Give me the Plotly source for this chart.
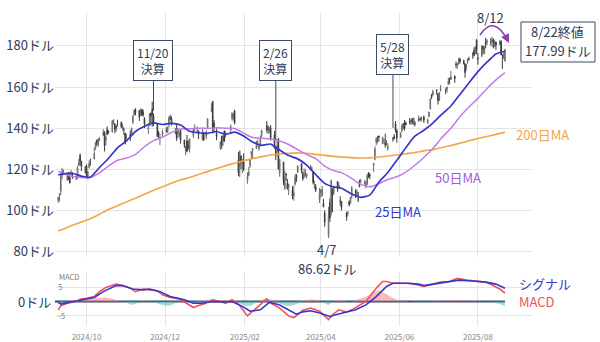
import plotly.graph_objects as go

# ---------------- daily candles (NVDA-like) ----------------
dates = [
 "2024-09-09","2024-09-10","2024-09-11","2024-09-12","2024-09-13","2024-09-16","2024-09-17","2024-09-18","2024-09-19","2024-09-20","2024-09-23","2024-09-24","2024-09-25","2024-09-26","2024-09-27","2024-09-30",
 "2024-10-01","2024-10-02","2024-10-03","2024-10-04","2024-10-07","2024-10-08","2024-10-09","2024-10-10","2024-10-11","2024-10-14","2024-10-15","2024-10-16","2024-10-17","2024-10-18","2024-10-21","2024-10-22","2024-10-23","2024-10-24","2024-10-25","2024-10-28","2024-10-29","2024-10-30","2024-10-31",
 "2024-11-01","2024-11-04","2024-11-05","2024-11-06","2024-11-07","2024-11-08","2024-11-11","2024-11-12","2024-11-13","2024-11-14","2024-11-15","2024-11-18","2024-11-19","2024-11-20","2024-11-21","2024-11-22","2024-11-25","2024-11-26","2024-11-27","2024-11-29",
 "2024-12-02","2024-12-03","2024-12-04","2024-12-05","2024-12-06","2024-12-09","2024-12-10","2024-12-11","2024-12-12","2024-12-13","2024-12-16","2024-12-17","2024-12-18","2024-12-19","2024-12-20","2024-12-23","2024-12-24","2024-12-26","2024-12-27","2024-12-30","2024-12-31",
 "2025-01-02","2025-01-03","2025-01-06","2025-01-07","2025-01-08","2025-01-10","2025-01-13","2025-01-14","2025-01-15","2025-01-16","2025-01-17","2025-01-21","2025-01-22","2025-01-23","2025-01-24","2025-01-27","2025-01-28","2025-01-29","2025-01-30","2025-01-31",
 "2025-02-03","2025-02-04","2025-02-05","2025-02-06","2025-02-07","2025-02-10","2025-02-11","2025-02-12","2025-02-13","2025-02-14","2025-02-18","2025-02-19","2025-02-20","2025-02-21","2025-02-24","2025-02-25","2025-02-26","2025-02-27","2025-02-28",
 "2025-03-03","2025-03-04","2025-03-05","2025-03-06","2025-03-07","2025-03-10","2025-03-11","2025-03-12","2025-03-13","2025-03-14","2025-03-17","2025-03-18","2025-03-19","2025-03-20","2025-03-21","2025-03-24","2025-03-25","2025-03-26","2025-03-27","2025-03-28","2025-03-31",
 "2025-04-01","2025-04-02","2025-04-03","2025-04-04","2025-04-07","2025-04-08","2025-04-09","2025-04-10","2025-04-11","2025-04-14","2025-04-15","2025-04-16","2025-04-17","2025-04-21","2025-04-22","2025-04-23","2025-04-24","2025-04-25","2025-04-28","2025-04-29","2025-04-30",
 "2025-05-01","2025-05-02","2025-05-05","2025-05-06","2025-05-07","2025-05-08","2025-05-09","2025-05-12","2025-05-13","2025-05-14","2025-05-15","2025-05-16","2025-05-19","2025-05-20","2025-05-21","2025-05-22","2025-05-23","2025-05-27","2025-05-28","2025-05-29","2025-05-30",
 "2025-06-02","2025-06-03","2025-06-04","2025-06-05","2025-06-06","2025-06-09","2025-06-10","2025-06-11","2025-06-12","2025-06-13","2025-06-16","2025-06-17","2025-06-18","2025-06-20","2025-06-23","2025-06-24","2025-06-25","2025-06-26","2025-06-27","2025-06-30",
 "2025-07-01","2025-07-02","2025-07-03","2025-07-07","2025-07-08","2025-07-09","2025-07-10","2025-07-11","2025-07-14","2025-07-15","2025-07-16","2025-07-17","2025-07-18","2025-07-21","2025-07-22","2025-07-23","2025-07-24","2025-07-25","2025-07-28","2025-07-29","2025-07-30","2025-07-31",
 "2025-08-01","2025-08-04","2025-08-05","2025-08-06","2025-08-07","2025-08-08","2025-08-11","2025-08-12","2025-08-13","2025-08-14","2025-08-15","2025-08-18","2025-08-19","2025-08-20","2025-08-21","2025-08-22",
]
opens = [
 104.88,107.81,109.39,116.85,119.08,116.79,118.17,115.89,117.35,117.06,116.55,116.52,122.02,126.80,123.97,118.31,
 121.77,116.44,120.92,124.94,124.99,130.26,134.11,131.91,134.01,136.47,137.87,133.98,139.34,138.67,138.13,142.91,142.03,140.82,141.68,143.00,140.29,139.54,137.60,
 134.70,137.21,137.45,142.96,146.39,148.77,148.68,146.78,149.07,147.64,144.87,139.50,141.32,147.41,149.35,145.93,141.99,137.70,135.01,136.78,
 138.83,138.26,142.00,145.11,144.60,138.97,139.01,137.36,137.08,138.94,134.18,129.09,133.86,131.76,129.81,136.28,140.00,139.70,138.55,134.83,138.03,
 136.00,140.01,148.59,153.03,142.58,137.45,129.99,136.05,133.65,138.64,136.69,139.16,144.66,145.05,148.37,124.80,121.81,126.50,123.10,123.78,
 114.75,116.96,121.76,127.42,129.22,130.09,132.58,130.02,131.56,136.48,141.27,139.51,140.03,140.04,136.56,129.98,129.99,135.00,118.01,
 123.51,110.65,117.58,113.53,111.25,109.90,106.99,112.73,117.03,118.61,122.74,118.00,117.27,116.55,116.77,119.88,120.55,118.73,111.35,111.49,105.13,
 108.52,107.29,103.51,98.91,87.46,103.81,98.89,109.37,108.50,114.11,110.97,104.55,104.45,98.77,98.78,104.52,103.48,106.85,109.69,107.67,104.47,
 113.08,114.18,112.91,111.48,113.05,118.25,117.35,121.97,124.98,133.20,134.30,136.22,132.39,134.29,133.06,132.23,130.00,134.15,136.03,142.25,138.72,
 135.49,138.78,142.19,142.17,142.51,143.19,142.69,144.61,141.97,142.48,143.35,144.49,144.01,145.45,142.50,145.56,149.27,155.98,156.04,158.37,
 156.29,153.66,158.43,158.83,159.07,161.22,164.32,163.72,165.37,171.19,171.06,172.02,173.64,172.75,171.34,169.53,172.02,173.61,174.02,177.96,176.20,182.90,
 174.09,175.16,179.62,176.33,181.57,181.56,182.16,181.88,182.62,179.75,181.88,180.60,182.43,175.41,174.85,172.61,
]
highs = [
 106.55,108.45,117.19,120.79,119.96,118.18,118.80,117.70,119.66,118.62,116.99,121.80,124.94,127.67,124.03,121.50,
 122.44,119.38,124.36,125.04,130.64,133.48,134.52,135.00,135.78,139.60,138.57,136.62,140.89,138.90,143.71,144.42,142.43,141.35,144.13,143.14,142.26,140.33,137.61,
 137.31,138.96,140.37,146.49,148.93,149.77,148.85,149.65,149.33,149.00,145.24,141.55,147.13,147.56,152.89,147.16,142.05,138.70,137.22,139.35,
 140.45,140.92,145.79,146.54,145.70,139.95,141.82,140.17,138.44,139.60,134.40,131.59,136.70,134.03,135.07,139.79,141.90,140.85,139.02,140.27,138.07,
 138.88,144.90,152.16,153.13,143.95,139.92,133.49,136.38,136.45,138.75,138.50,141.83,147.79,147.23,148.97,128.40,129.00,126.89,125.00,127.85,
 118.57,121.20,125.00,128.77,130.37,133.00,134.48,132.24,136.50,139.25,143.44,141.36,140.67,141.46,138.59,130.20,133.73,135.01,125.09,
 123.70,119.31,118.28,115.35,113.00,111.85,112.23,117.77,117.76,121.89,122.90,119.02,120.45,120.08,117.99,122.22,121.29,118.84,114.45,112.87,110.96,
 110.20,111.98,105.63,100.13,101.75,105.85,115.10,110.86,111.65,114.29,113.62,106.95,104.47,99.35,99.81,104.80,106.54,111.92,110.37,110.20,108.92,
 114.94,115.40,114.67,114.74,117.68,118.68,118.23,123.00,131.22,135.44,136.30,136.35,135.87,134.58,137.40,134.25,132.68,135.66,137.25,143.49,139.62,
 138.12,142.00,142.39,144.00,143.27,145.00,144.29,144.99,145.00,143.58,146.18,145.22,145.65,146.20,144.78,147.96,154.45,156.72,158.71,158.99,
 157.20,157.45,160.98,159.43,160.22,164.42,164.50,167.89,165.49,172.40,171.75,174.16,174.25,173.38,171.39,171.26,173.99,174.72,176.96,179.38,179.89,183.30,
 176.54,180.26,180.26,179.89,183.88,183.30,183.85,184.47,183.62,183.03,181.90,182.94,182.50,176.00,176.94,178.64,
]
lows = [
 103.69,104.47,107.42,115.38,117.60,114.36,114.83,113.22,117.25,115.39,114.86,115.38,121.61,121.80,119.26,118.15,
 115.79,115.14,120.34,121.83,124.95,129.42,131.38,131.00,133.66,136.30,128.74,131.58,136.87,137.28,138.00,141.78,137.46,138.46,140.80,140.05,138.90,136.81,132.11,
 134.57,133.80,137.33,141.96,146.17,146.26,143.57,146.01,145.90,145.55,140.08,137.15,140.99,142.73,140.70,141.10,135.82,135.21,131.80,136.05,
 137.82,137.75,140.29,143.95,141.31,137.13,133.79,135.21,135.80,132.54,130.42,126.86,128.28,129.55,128.22,135.12,138.65,137.73,134.71,134.02,133.83,
 134.63,139.73,147.82,137.56,137.56,134.22,129.51,130.05,131.29,133.49,135.46,137.09,143.67,143.72,141.88,116.70,116.25,120.05,118.10,119.19,
 113.01,116.70,120.76,125.21,125.00,129.96,131.02,129.08,131.17,135.50,137.93,137.22,137.78,134.03,130.08,124.44,128.49,120.01,116.40,
 112.28,110.11,114.51,110.22,107.56,105.46,104.77,112.28,113.79,118.15,118.10,114.54,115.64,116.45,115.43,119.60,119.43,112.70,110.66,109.07,103.65,
 106.47,106.79,101.60,92.11,86.62,94.46,97.53,99.15,107.43,109.07,110.50,102.47,100.05,95.04,97.28,102.02,103.11,105.73,106.02,107.44,104.08,
 111.30,113.37,112.66,110.82,112.28,115.85,115.21,118.78,124.47,131.68,132.66,133.46,132.39,132.62,130.59,131.55,129.16,133.31,134.79,137.91,132.92,
 135.40,137.95,139.55,138.83,141.51,141.94,141.53,141.87,141.85,140.85,143.20,143.78,143.12,142.65,142.03,145.50,149.26,154.20,155.91,156.16,
 151.49,153.26,157.77,156.56,157.35,161.16,161.61,163.47,162.02,169.20,168.90,170.83,171.26,171.00,164.58,167.97,171.30,172.96,173.76,175.02,176.04,175.93,
 170.89,174.52,175.90,176.04,178.80,180.40,180.25,179.46,178.80,179.35,178.04,180.59,175.49,168.80,173.61,172.53,
]
closes = [
 106.47,108.10,116.91,119.14,119.10,116.78,115.59,113.37,117.87,116.00,116.26,120.87,123.51,124.04,121.40,121.44,
 117.00,118.85,122.85,124.92,127.72,132.89,132.65,134.81,134.80,138.07,131.60,135.72,136.93,138.00,143.71,143.59,139.56,140.41,141.54,140.52,141.25,139.34,132.76,
 135.40,136.05,139.91,145.61,148.88,147.63,145.26,148.29,146.27,146.76,141.98,140.15,147.01,145.89,146.67,141.95,136.02,136.92,135.34,138.25,
 138.63,140.26,145.14,145.06,142.44,138.81,135.07,139.31,137.34,134.25,132.00,130.39,128.91,130.68,134.70,139.67,140.22,139.93,137.01,137.49,134.29,
 138.31,144.47,149.43,140.14,140.11,135.91,133.23,131.76,136.24,133.57,137.71,140.83,147.07,147.22,142.62,118.42,128.99,123.70,124.65,120.07,
 116.66,118.65,124.83,128.68,129.84,133.57,132.80,131.14,135.29,138.85,139.40,139.23,140.11,134.43,130.28,126.63,131.28,120.15,124.92,
 114.06,115.99,117.30,110.57,112.69,106.98,108.76,115.74,115.58,121.67,119.53,115.43,117.52,118.53,117.70,121.41,120.69,113.76,111.43,109.67,108.38,
 110.15,110.42,101.80,94.31,97.64,96.30,114.33,107.57,110.93,110.71,112.20,104.49,101.49,96.91,98.89,102.71,106.43,111.01,108.73,109.02,108.92,
 111.61,114.50,113.82,113.54,117.06,117.37,116.65,123.00,129.93,135.34,134.83,135.40,135.57,134.38,131.80,132.83,131.29,135.50,134.81,139.19,135.13,
 137.38,141.22,141.92,139.99,141.72,142.63,143.96,142.83,145.00,141.97,144.69,144.12,145.48,143.85,144.17,147.90,154.31,155.02,157.75,157.99,
 153.30,157.25,159.34,158.24,160.00,162.88,164.10,164.92,164.07,170.70,171.37,173.00,172.41,171.38,167.03,170.78,173.74,173.50,176.75,175.51,179.27,177.87,
 173.72,180.00,178.26,179.42,180.77,182.70,182.06,183.16,181.59,182.02,180.45,182.01,175.64,175.40,174.98,177.99,
]

# ---------------- moving averages (weekly readings) ----------------
ma_dates = [
 "2024-09-09","2024-09-13","2024-09-20","2024-09-27","2024-10-04","2024-10-11","2024-10-18","2024-10-25",
 "2024-11-01","2024-11-08","2024-11-15","2024-11-22","2024-11-29","2024-12-06","2024-12-13","2024-12-20","2024-12-27",
 "2025-01-03","2025-01-10","2025-01-17","2025-01-24","2025-01-31","2025-02-07","2025-02-14","2025-02-21","2025-02-28",
 "2025-03-07","2025-03-14","2025-03-21","2025-03-28","2025-04-04","2025-04-11","2025-04-17","2025-04-25",
 "2025-05-02","2025-05-09","2025-05-16","2025-05-23","2025-05-30","2025-06-06","2025-06-13","2025-06-20","2025-06-27",
 "2025-07-03","2025-07-11","2025-07-18","2025-07-25","2025-08-01","2025-08-08","2025-08-15","2025-08-22",
]
ma25 = [117.3,117.8,118.1,116.7,116.2,120.9,125.3,130.5,
        133.8,138.4,141.0,142.6,141.8,142.4,141.6,138.5,137.8,
        137.5,138.4,137.0,138.1,136.2,133.3,131.7,132.3,129.4,
        126.7,125.1,122.1,117.5,113.2,111.5,110.8,108.0,
        106.4,107.5,113.7,118.5,124.4,130.5,136.1,139.0,142.5,
        146.2,150.8,156.4,162.0,167.5,172.1,176.1,177.4]
ma50 = [119.0,118.0,116.6,116.0,116.1,118.3,121.6,124.4,
        125.5,127.3,131.0,134.0,135.7,137.9,139.6,139.7,140.0,
        139.9,140.2,140.0,139.9,137.6,135.5,135.2,134.8,133.8,
        132.1,129.6,127.2,125.2,121.6,119.4,118.4,115.6,
        112.8,111.5,113.0,115.1,116.4,118.7,122.0,125.8,130.1,
        134.7,140.0,145.6,150.3,154.5,159.2,163.5,167.0]
ma200 = [90.0,91.0,92.8,94.4,96.0,98.2,100.5,102.3,
         104.2,106.0,107.9,109.8,111.6,113.3,114.8,116.1,117.5,
         118.9,120.4,121.8,123.0,124.2,125.2,126.2,127.0,127.5,
         127.8,128.0,127.8,127.3,126.8,126.3,126.0,125.7,
         125.5,125.6,126.0,126.5,127.0,127.6,128.2,129.0,129.6,
         130.5,131.6,132.7,133.9,135.0,136.0,137.0,138.0]

# ---------------- MACD (readings) ----------------
macd_dates = ["2024-09-09","2024-09-11","2024-09-16","2024-09-23","2024-09-27","2024-10-01","2024-10-07","2024-10-11",
 "2024-10-16","2024-10-22","2024-10-24","2024-10-29","2024-11-04","2024-11-08","2024-11-14","2024-11-19","2024-11-25",
 "2024-11-29","2024-12-05","2024-12-12","2024-12-18","2024-12-23","2024-12-27","2024-12-31","2025-01-07","2025-01-13",
 "2025-01-17","2025-01-22","2025-01-27","2025-02-03","2025-02-07","2025-02-13","2025-02-18","2025-02-21","2025-02-28",
 "2025-03-07","2025-03-11","2025-03-14","2025-03-18","2025-03-24","2025-03-31","2025-04-07","2025-04-10","2025-04-15",
 "2025-04-21","2025-04-25","2025-04-30","2025-05-06","2025-05-09","2025-05-14","2025-05-19","2025-05-22","2025-05-27",
 "2025-06-02","2025-06-09","2025-06-13","2025-06-20","2025-06-27","2025-07-03","2025-07-10","2025-07-16","2025-07-23",
 "2025-07-31","2025-08-07","2025-08-12","2025-08-18","2025-08-22"]
macd_vals = [-2.9,-1.5,-0.6,0.0,0.9,1.1,1.7,3.4,
 4.8,5.7,6.0,5.5,4.6,3.4,4.3,4.0,3.7,
 2.3,1.4,0.9,-0.6,-2.1,-1.4,-0.9,0.6,0.0,
 -0.7,0.6,-0.9,-5.0,-3.4,-0.9,0.9,-0.6,-2.3,
 -5.0,-5.6,-4.6,-3.0,-2.3,-3.4,-6.3,-4.6,-2.9,
 -3.7,-2.9,-1.7,0.0,1.7,4.6,6.9,6.9,6.3,
 6.3,6.3,6.0,5.2,6.0,6.7,6.9,8.0,7.4,
 7.1,6.7,5.7,4.3,2.9]
signal_dates = ["2024-09-09","2024-09-11","2024-09-18","2024-09-27","2024-10-07","2024-10-14","2024-10-24","2024-10-29",
 "2024-11-06","2024-11-14","2024-11-19","2024-11-27","2024-12-05","2024-12-16","2024-12-23","2024-12-30","2025-01-07",
 "2025-01-15","2025-01-22","2025-01-30","2025-02-05","2025-02-13","2025-02-20","2025-02-28","2025-03-07","2025-03-13",
 "2025-03-18","2025-03-24","2025-03-31","2025-04-08","2025-04-14","2025-04-21","2025-04-28","2025-05-06","2025-05-14",
 "2025-05-22","2025-05-27","2025-06-06","2025-06-16","2025-06-20","2025-07-02","2025-07-11","2025-07-17","2025-07-28",
 "2025-08-07","2025-08-15","2025-08-22"]
signal_vals = [-0.2,-0.9,-0.3,0.6,1.4,3.4,5.5,5.5,
 4.3,4.0,4.3,3.4,1.7,0.6,-0.6,-0.6,0.0,
 -0.2,0.0,-1.7,-3.4,-2.9,-0.3,-1.2,-2.9,-4.4,
 -3.6,-3.2,-4.0,-5.2,-4.4,-3.7,-2.9,-1.2,1.7,
 5.2,6.3,6.3,6.0,5.5,6.3,7.1,7.4,7.1,
 6.7,6.0,4.6]
hist_dates = ["2024-09-09","2024-09-12","2024-09-17","2024-09-24","2024-10-01","2024-10-08","2024-10-15","2024-10-21",
 "2024-10-25","2024-10-31","2024-11-05","2024-11-08","2024-11-12","2024-11-18","2024-11-22","2024-11-27","2024-12-03",
 "2024-12-09","2024-12-13","2024-12-19","2024-12-24","2024-12-30","2025-01-06","2025-01-10","2025-01-15","2025-01-22",
 "2025-01-27","2025-01-31","2025-02-05","2025-02-11","2025-02-14","2025-02-19","2025-02-25","2025-03-03","2025-03-07",
 "2025-03-13","2025-03-19","2025-03-25","2025-04-01","2025-04-07","2025-04-11","2025-04-16","2025-04-23","2025-04-30",
 "2025-05-06","2025-05-12","2025-05-16","2025-05-21","2025-05-27","2025-06-02","2025-06-09","2025-06-16","2025-06-23",
 "2025-06-30","2025-07-08","2025-07-15","2025-07-22","2025-07-29","2025-08-05","2025-08-11","2025-08-15","2025-08-20",
 "2025-08-22"]
hist_vals = [-1.0,-0.3,0.2,0.5,0.8,1.2,1.4,0.9,
 0.4,-0.3,-1.1,-0.9,0.1,0.2,-0.3,-1.0,-1.5,
 -0.6,0.2,-0.4,-0.8,0.3,0.6,0.1,-0.2,0.4,
 -0.4,-1.3,-1.5,-0.2,0.6,0.9,-0.3,-1.2,-1.6,
 -0.9,0.3,0.8,-0.2,-1.1,0.1,0.6,-0.1,0.8,
 1.6,3.0,3.8,2.8,1.2,0.3,0.0,-0.4,-0.2,
 0.3,0.2,0.5,0.1,0.3,0.1,-0.2,-0.6,-1.2,
 -1.6]

# ---------------- ticks ----------------
price_ticks = [80, 100, 120, 140, 160, 180]
price_tick_text = ["80ドル", "100ドル", "120ドル", "140ドル", "160ドル", "180ドル"]
month_ticks = ["2024-10-01", "2024-12-01", "2025-02-01", "2025-04-01", "2025-06-01", "2025-08-01"]
month_tick_text = ["2024/10", "2024/12", "2025/02", "2025/04", "2025/06", "2025/08"]
macd_ticks = [-5, 5]
macd_tick_text = ["-5", "5"]

for name, arr in [("opens", opens), ("highs", highs), ("lows", lows), ("closes", closes)]:
    if len(arr) != len(dates):
        raise ValueError(f"{name}: {len(arr)} vs dates {len(dates)}")
for a, b in [(ma25, ma_dates), (ma50, ma_dates), (ma200, ma_dates), (macd_vals, macd_dates),
             (signal_vals, signal_dates), (hist_vals, hist_dates)]:
    if len(a) != len(b):
        raise ValueError(f"len mismatch {len(a)} vs {len(b)}")

TXT = "#2e3b5b"
BLUE = "#3636c8"
PURPLE = "#c07ce8"
ORANGE = "#f5a445"
RED = "#f0505c"
GRID = "#e4e4e4"
BORDER = "#3d4a66"
FONT = "Noto Sans CJK JP, Noto Sans, sans-serif"

x_start = "2024-09-06 12:00"
x_end = "2025-09-12"

fig = go.Figure()

fig.add_trace(go.Scatter(x=ma_dates, y=ma200, mode="lines", line=dict(color=ORANGE, width=1.6, shape="spline", smoothing=0.6),
                         xaxis="x", yaxis="y", hoverinfo="skip"))
fig.add_trace(go.Candlestick(x=dates, open=opens, high=highs, low=lows, close=closes,
                             increasing=dict(line=dict(color="#6a6a6a", width=1), fillcolor="#f4f4f4"),
                             decreasing=dict(line=dict(color="#3a3a3a", width=1), fillcolor="#4a4a4a"),
                             xaxis="x", yaxis="y"))
fig.add_trace(go.Scatter(x=ma_dates, y=ma50, mode="lines", line=dict(color=PURPLE, width=1.5, shape="spline", smoothing=0.6),
                         xaxis="x", yaxis="y", hoverinfo="skip"))
fig.add_trace(go.Scatter(x=ma_dates, y=ma25, mode="lines", line=dict(color=BLUE, width=1.7, shape="spline", smoothing=0.6),
                         xaxis="x", yaxis="y", hoverinfo="skip"))

hist_pos = [v if v > 0 else 0 for v in hist_vals]
hist_neg = [v if v < 0 else 0 for v in hist_vals]
fig.add_trace(go.Scatter(x=hist_dates, y=hist_pos, mode="lines", line=dict(width=0, shape="spline"), fill="tozeroy",
                         fillcolor="rgba(245,140,150,0.6)", xaxis="x2", yaxis="y2", hoverinfo="skip"))
fig.add_trace(go.Scatter(x=hist_dates, y=hist_neg, mode="lines", line=dict(width=0, shape="spline"), fill="tozeroy",
                         fillcolor="rgba(95,195,195,0.6)", xaxis="x2", yaxis="y2", hoverinfo="skip"))
fig.add_trace(go.Scatter(x=macd_dates, y=macd_vals, mode="lines", line=dict(color=RED, width=1.6),
                         xaxis="x2", yaxis="y2", hoverinfo="skip"))
fig.add_trace(go.Scatter(x=signal_dates, y=signal_vals, mode="lines", line=dict(color=BLUE, width=1.6),
                         xaxis="x2", yaxis="y2", hoverinfo="skip"))

fig.add_shape(type="line", xref="x2", yref="y2", x0=x_start, x1=dates[-1], y0=0, y1=0,
              line=dict(color="#34465e", width=2), layer="between")

# curved arrow near 8/12
ARC = "#8e3fb0"
fig.add_shape(type="path", xref="paper", yref="paper",
              path="M 0.891,0.9297 Q 0.9203,0.9968 0.9497,0.9105", line=dict(color=ARC, width=1.6))

# closing-price box (border drawn as a rectangle, two text lines)
fig.add_shape(type="rect", xref="paper", yref="paper", x0=0.9769, x1=1.1321, y0=0.8435, y1=0.9712,
              line=dict(color=BORDER, width=1), fillcolor="white", layer="above")

ann = []
def box(text, x, y, ax, ay, size=12):
    ann.append(dict(x=x, y=y, xref="x", yref="y", text=text, showarrow=True, arrowhead=0, arrowwidth=1,
                    arrowcolor=BORDER, ax=ax, ay=ay, font=dict(size=size, color=TXT, family=FONT),
                    bgcolor="white", bordercolor=BORDER, borderwidth=1, borderpad=3, align="center"))

box("11/20<br>決算", "2024-11-22", 148.5, 0, -50.5)
box("2/26<br>決算", "2025-02-25", 134.4, 0, -79)
box("5/28<br>決算", "2025-05-27", 140.2, 0, -73.5)

def label(text, x, y, color, size=13, xanchor="center", xref="paper", yref="paper"):
    ann.append(dict(x=x, y=y, xref=xref, yref=yref, text=text, showarrow=False, xanchor=xanchor, yanchor="middle",
                    font=dict(size=size, color=color, family=FONT)))

label("8/12", 0.912, 0.987, TXT)
ann.append(dict(x=0.9518, y=0.9042, xref="paper", yref="paper", text="", showarrow=True, arrowhead=2,
                arrowsize=1.1, arrowwidth=1.6, arrowcolor=ARC, ax=-3, ay=-6))
label("8/22終値", 1.0545, 0.9393, TXT)
label("177.99ドル", 1.0545, 0.8802, TXT)
label("200日MA", 1.023, 0.613, ORANGE)
label("50日MA", 0.845, 0.473, "#a45ad8")
label("25日MA", 0.719, 0.367, BLUE)
label("4/7", 0.570, 0.246, TXT)
label("86.62ドル", 0.570, 0.185, TXT)
label("シグナル", 0.9686, 0.136, BLUE, size=13, xanchor="left")
label("MACD", 0.9686, 0.078, RED, size=13, xanchor="left")
label("MACD", 0.004, 8.6, "#777777", size=7.5, xanchor="left", yref="y2")
ann.append(dict(x=0, y=0, xref="paper", yref="y2", text="0ドル", showarrow=False, xanchor="right", yanchor="middle",
                xshift=-2, font=dict(size=13, color=TXT, family=FONT)))

fig.update_layout(
    template="none",
    width=600, height=342,
    margin=dict(l=55, r=68, t=13, b=16, autoexpand=False),
    paper_bgcolor="white", plot_bgcolor="white",
    showlegend=False,
    font=dict(family=FONT, color=TXT),
    annotations=ann,
    xaxis=dict(domain=[0, 1], anchor="y", type="date", range=[x_start, x_end], tickvals=month_ticks,
               showticklabels=False, showgrid=True, gridcolor=GRID, gridwidth=1, zeroline=False,
               rangeslider=dict(visible=False), ticks="", automargin=False, showline=False),
    xaxis2=dict(domain=[0, 1], anchor="y2", type="date", range=[x_start, x_end], matches="x",
                tickvals=month_ticks, ticktext=month_tick_text, tickfont=dict(size=8, color="#888888"),
                ticklabelstandoff=5,
                showgrid=True, gridcolor=GRID, gridwidth=1, zeroline=False, ticks="", automargin=False, showline=False),
    yaxis=dict(domain=[0.2204, 1], anchor="x", range=[77.4, 196], tickvals=price_ticks, ticktext=price_tick_text,
               tickfont=dict(size=13, color=TXT), showgrid=True, gridcolor=GRID, zeroline=False, ticks="",
               automargin=False, showline=False),
    yaxis2=dict(domain=[0, 0.1725], anchor="x2", range=[-8.5, 10.2], tickvals=macd_ticks, ticktext=macd_tick_text,
                tickfont=dict(size=8, color="#888888"), ticklabelposition="inside", showgrid=True, gridcolor=GRID,
                zeroline=False, ticks="", automargin=False, showline=False),
)

fig.write_html("out.html")
